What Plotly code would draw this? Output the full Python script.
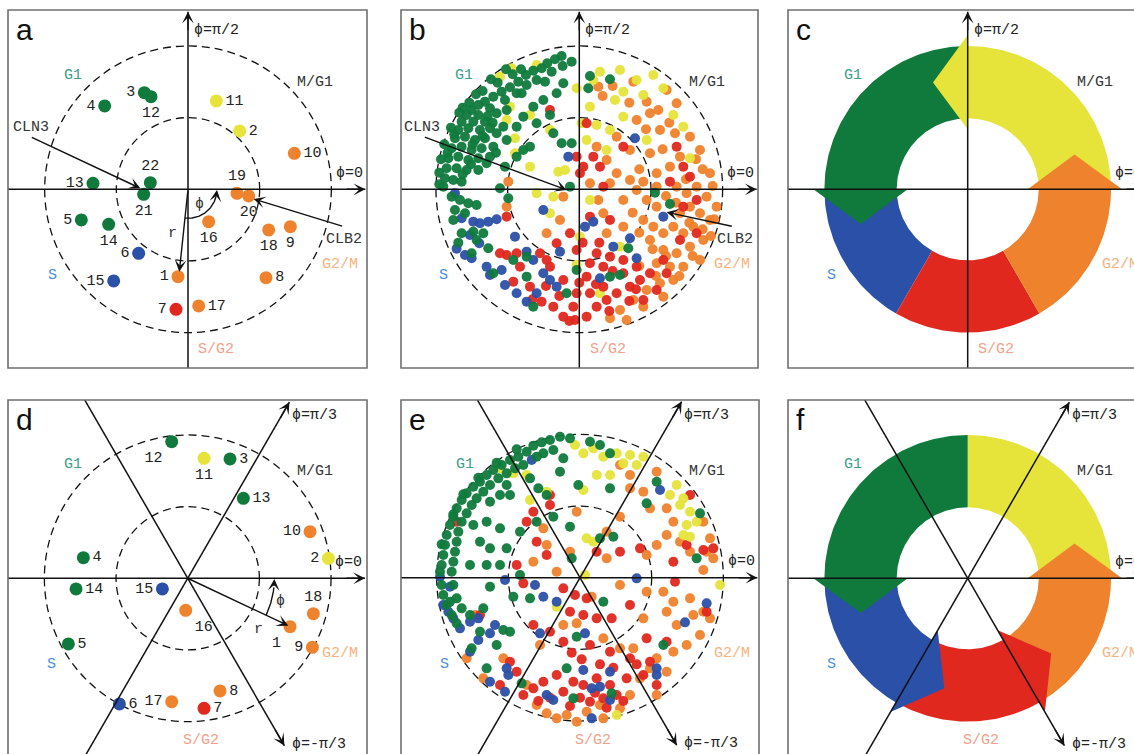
import math
import plotly.graph_objects as go

W, H = 1134, 754
PX = 100 / 3.0          # pixels per data unit
R_OUT, R_IN = 4.3, 2.15
MONO = "Liberation Mono"
SANS = "Liberation Sans"

COL = {'G1': '#0f7a3c', 'S': '#2b50a8', 'S/G2': '#e0281f', 'G2/M': '#ef822c', 'M/G1': '#e6e43a'}
LABCOL = {'G1': '#3a9e8a', 'S': '#4a8ee0', 'S/G2': '#f4a088', 'G2/M': '#f6b27e', 'M/G1': '#333333'}

# ---------------- data ----------------
a_gene = list(range(1, 23))
a_x = [-0.30, 1.55, -1.31, -2.50, -3.20, -1.48, -0.36, 2.34, 3.07, 3.19, 0.85,
       -1.11, -2.85, -2.38, -2.23, 0.62, 0.32, 2.42, 1.47, 1.82, -1.33, -1.13]
a_y = [-2.62, 1.75, 2.90, 2.50, -0.92, -1.92, -3.60, -2.65, -1.12, 1.08, 2.65,
       2.78, 0.18, -1.05, -2.75, -0.97, -3.50, -1.22, -0.12, -0.20, -0.15, 0.20]
a_phase = ['G2/M', 'M/G1', 'G1', 'G1', 'G1', 'S', 'S/G2', 'G2/M', 'G2/M', 'G2/M', 'M/G1',
           'G1', 'G1', 'G1', 'S', 'G2/M', 'G2/M', 'G2/M', 'G2/M', 'G2/M', 'G1', 'G1']
a_textpos = ['middle left', 'middle right', 'middle left', 'middle left', 'middle left',
             'middle left', 'middle left', 'middle right', 'bottom center', 'middle right',
             'middle right', 'bottom center', 'middle left', 'bottom center', 'middle left',
             'bottom center', 'middle right', 'bottom center', 'top center', 'bottom center',
             'bottom center', 'top center']

d_gene = list(range(1, 19))
d_x = [3.07, 4.22, 1.27, -3.13, -3.58, -2.05, 0.49, 0.97, 3.74, 3.67, 0.49, -0.48,
       1.67, -3.35, -0.76, -0.06, -0.48, 3.77]
d_y = [-1.45, 0.60, 3.58, 0.62, -1.97, -3.77, -3.90, -3.38, -2.07, 1.40, 3.60, 4.10,
       2.40, -0.32, -0.32, -0.96, -3.70, -1.06]
d_phase = ['G2/M', 'M/G1', 'G1', 'G1', 'G1', 'S', 'S/G2', 'G2/M', 'G2/M', 'G2/M', 'M/G1',
           'G1', 'G1', 'G1', 'S', 'G2/M', 'G2/M', 'G2/M']
d_textpos = ['bottom left', 'middle left', 'middle right', 'middle right', 'middle right',
             'middle right', 'middle right', 'middle right', 'middle left', 'middle left',
             'bottom center', 'bottom left', 'middle right', 'middle right', 'middle left',
             'bottom right', 'middle left', 'top center']

b_G1 = [(-0.53,4.00),(-0.73,3.90),(-0.96,3.78),(-0.23,3.83),(-1.13,3.63),(-1.38,3.56),(-0.83,3.53),
        (-1.60,3.43),(-1.28,3.28),(-1.03,3.23),(-1.83,3.23),(-1.58,3.13),(-2.08,3.06),(-2.33,2.93),
        (-1.88,2.88),(-2.58,2.78),(-2.23,2.68),(-2.83,2.63),(-3.03,2.53),(-2.68,2.43),(-3.23,2.38),
        (-3.38,2.23),(-3.03,2.23),(-2.48,2.28),(-3.53,2.03),(-3.18,2.03),(-2.83,2.03),(-2.18,2.38),
        (-3.63,1.78),(-3.33,1.83),(-2.98,1.78),(-2.68,1.83),(-3.73,1.53),(-3.43,1.58),(-3.13,1.48),
        (-2.83,1.53),(-2.48,1.68),(-3.83,1.23),(-3.53,1.28),(-3.23,1.18),(-2.93,1.23),(-2.58,1.28),
        (-3.93,0.93),(-3.63,0.98),(-3.33,0.88),(-3.03,0.93),(-2.68,0.98),(-3.98,0.63),(-3.68,0.63),
        (-3.38,0.58),(-3.03,0.58),(-4.03,0.33),(-3.78,0.28),(-3.53,0.23),(-4.08,0.08),(-2.18,1.48),
        (-1.88,1.88),(-1.68,2.18),(-1.38,2.48),(-1.08,2.68),(-0.68,2.88),(-0.48,3.18),(-1.28,1.98),
        (-0.88,2.23),(-0.78,1.68),(-0.53,1.38),(-0.23,1.38),(-1.48,1.28),(-1.88,0.98),(-2.23,0.68),
        (-2.38,0.03),(-2.13,-0.27),(-0.28,0.08),(0.27,3.03),(0.32,3.40),(0.92,3.30),(-1.68,1.18),
        (-2.78,0.78),(-1.73,2.88),(-2.28,1.88),(-2.00,3.45),(-2.45,3.20),(-2.90,2.95),(-3.30,2.60),
        (-3.60,2.30),(-3.85,1.85),(-4.05,1.35),(-4.15,0.90),(-4.20,0.50),(-4.20,0.15),(-1.75,3.60),
        (-0.50,3.70),(-2.60,2.00),(-2.90,1.60),(-2.50,1.10),(-3.10,2.85),(-2.65,3.30),(-2.20,3.60),
        (-3.50,2.45),(-3.75,1.65),(-3.95,1.10),(-3.20,1.35),(-2.75,2.20),(-3.25,0.75),(-3.50,0.45),
        (-3.83,-0.22),(-3.58,-0.32),(-3.33,-0.42),(-3.08,-0.47),(-3.73,-0.62),(-3.43,-0.72),
        (-3.78,-0.92),(-3.53,-1.32),(-3.18,-1.27),(-2.88,-1.32),(-3.63,-1.60),(-3.08,-1.52),
        (-2.73,-1.77),(-3.23,-1.92),(-2.58,-2.52),(-1.98,-2.12),(-1.58,-2.62),(-1.38,-3.52),
        (-0.38,-3.12),(-1.58,-2.02),(-0.08,-2.42),(0.92,-2.62),(1.22,-2.57),(1.47,-1.77),
        (2.27,-0.10),(2.72,-0.44)]
b_S = [(-3.73,-0.12),(-3.53,-0.87),(-3.18,-0.97),(-2.98,-1.02),(-2.73,-0.97),(-2.48,-0.90),
       (-3.28,-1.37),(-3.00,-1.62),(-3.68,-1.78),(-3.43,-1.97),(-3.23,-2.07),(-2.78,-2.32),
       (-2.68,-2.57),(-2.33,-2.42),(-2.23,-2.87),(-1.93,-1.42),(-1.58,-1.87),(-1.28,-3.12),
       (-1.58,-3.37),(-1.08,-2.52),(-0.88,-2.72),(-0.58,-1.87),(-0.68,-2.92),(-0.33,0.98),
       (-1.08,-0.62),(0.17,-1.12),(0.42,-0.97),(1.52,-1.47),(1.72,-2.07),(0.62,-2.67),
       (1.02,-1.72),(1.67,1.53),(2.52,-0.82),(-1.88,-3.12),(-1.38,-2.12)]
b_MG1 = [(-2.03,3.63),(-2.38,3.38),(-1.28,3.73),(0.62,3.53),(1.22,3.58),(1.72,3.28),(2.22,3.43),
         (1.32,2.93),(1.07,2.68),(1.92,2.83),(2.52,3.03),(0.32,2.48),(0.07,1.98),(0.52,1.93),
         (0.92,1.78),(1.32,2.18),(2.82,2.23),(3.12,1.88),(3.32,0.93),(-0.88,1.78),(-1.93,1.53),
         (-1.93,1.08),(-1.48,0.68),(-0.63,0.53),(-0.43,0.58),(-1.28,-0.12),(-0.78,-0.22),
         (0.22,1.48),(-2.08,2.48),(-2.18,2.08),(-1.48,2.23),(0.32,-0.32),(0.02,-1.42),
         (-0.08,-2.27),(-0.88,-0.72),(0.82,1.18),(-0.08,3.03),(1.22,-1.72),(0.62,-3.12),
         (2.02,1.48),(0.42,3.28)]
b_G2M = [(0.57,3.08),(1.62,3.23),(2.02,2.63),(2.37,2.38),(2.62,2.98),(2.12,2.28),(2.92,2.58),
         (1.72,2.08),(2.42,1.78),(2.87,1.68),(3.32,1.58),(3.62,1.18),(3.92,0.48),(3.02,0.98),
         (2.72,0.68),(2.32,0.48),(1.92,0.23),(1.72,-0.02),(2.02,-0.32),(2.32,-0.52),(2.92,0.08),
         (3.22,-0.12),(3.52,0.08),(3.82,-0.22),(3.32,-0.52),(3.02,-0.72),(3.62,-0.72),(3.92,-0.92),
         (3.42,-1.12),(3.12,-1.32),(2.82,-1.12),(2.52,-1.32),(2.22,-1.12),(1.92,-0.92),(2.12,-1.52),
         (2.52,-1.82),(2.92,-1.92),(3.32,-1.72),(3.72,-1.52),(3.12,-2.32),(2.72,-2.32),(2.32,-2.22),
         (2.82,-2.72),(2.42,-2.82),(2.02,-3.02),(1.62,-3.32),(1.22,-3.62),(0.92,-3.87),(2.52,-3.22),
         (1.32,-0.32),(1.52,0.28),(1.12,0.48),(0.82,0.88),(0.52,1.28),(1.12,1.58),(1.52,1.18),
         (2.12,1.08),(0.92,0.18),(0.57,-0.32),(-0.48,-0.22),(-0.58,-0.92),(-0.98,-1.32),
         (-2.13,0.23),(-2.18,-0.52),(0.32,0.18),(0.72,-0.72),(1.32,-1.12),(0.82,-1.32),
         (1.42,-3.92),(1.92,-3.52),(3.62,-2.12),(2.32,0.08),(4.12,-0.52),
         (3.70,0.60),(3.50,0.90),(4.00,0.10),(3.20,0.30),(2.60,-0.20),(2.90,-0.40),(3.70,-1.20),
         (3.95,-1.40),(3.40,-2.00),(3.00,-2.60),(2.60,-2.00),(2.20,-1.80),(1.80,-1.30),(1.60,-0.70),
         (1.80,0.60),(2.50,1.20),(2.00,1.80),(2.70,2.00),(1.50,2.60),(1.00,3.10),(0.70,2.80),
         (2.30,-2.60),(1.80,-2.30),(3.30,-1.00),(4.05,-0.90)]
b_SG2 = [(-2.18,-1.97),(-1.78,-2.32),(-1.48,-2.92),(-1.13,-3.37),(-0.78,-3.52),(-0.48,-3.82),
         (-0.13,-3.92),(0.22,-3.82),(0.52,-3.52),(0.32,-3.12),(0.82,-3.32),(1.12,-3.12),(1.52,-2.92),
         (1.82,-2.72),(2.12,-2.52),(1.32,-2.52),(0.72,-2.32),(0.32,-2.22),(0.52,-1.92),(0.92,-2.02),
         (1.32,-2.12),(-0.08,-3.12),(-0.48,-2.72),(-0.88,-2.32),(-1.18,-1.92),(-0.68,-1.62),
         (-0.08,-1.82),(0.22,-2.62),(0.72,-2.92),(-0.18,-3.52),(1.92,-3.32),(2.32,-3.02),
         (2.62,-2.52),(3.02,-1.52),(3.52,-1.32),(3.12,-0.52),(3.52,-0.32),(3.32,0.38),(2.72,0.23),
         (0.02,0.48),(-0.08,0.98),(0.12,0.68),(0.62,0.68),(0.42,0.98),(0.72,0.08),(0.32,-0.82),
         (0.92,-0.92),(-0.88,2.38),(0.22,1.98),(1.32,1.28),(2.92,1.28),(3.12,0.68),(-2.18,-0.82),
         (-1.88,-1.92),(-1.98,-2.77),(-2.38,-1.92),(-0.98,-2.12),(-0.28,-1.32),(1.72,-2.32),
         (2.52,-2.12),(0.00,-2.80),(0.50,-2.85),(1.00,-2.45),(1.50,-3.35),(-0.60,-3.20),
         (-1.00,-2.90),(-0.30,-3.95),(0.90,-3.65),(1.70,-3.00),(-1.40,-3.30),(0.10,-1.60),(0.60,-1.60)]

e_G1 = [(-0.60,4.23),(-0.30,4.18),(-0.90,4.13),(-1.15,4.06),(-1.40,3.96),(0.30,4.08),(0.60,3.98),
        (-0.80,3.83),(-1.10,3.73),(-1.30,3.63),(-1.60,3.78),(-1.85,3.63),(-2.10,3.53),(-2.35,3.38),
        (-2.60,3.23),(-2.80,3.08),(-3.00,2.88),(-3.20,2.73),(-3.40,2.53),(-3.55,2.33),(-3.70,2.08),
        (-3.80,1.83),(-3.90,1.58),(-4.00,1.28),(-4.05,0.98),(-4.10,0.68),(-4.15,0.38),(-4.20,0.18),
        (-4.15,-0.22),(-4.10,-0.52),(-4.00,-0.82),(-3.85,-1.12),(-3.70,-1.37),(-1.70,3.38),
        (-1.95,3.28),(-2.20,3.13),(-2.45,2.98),(-2.70,2.78),(-2.90,2.58),(-3.10,2.38),(-3.25,2.18),
        (-3.40,1.93),(-3.55,1.68),(-3.65,1.38),(-3.70,1.08),(-3.75,0.78),(-3.80,0.48),(-3.85,0.18),
        (-3.80,-0.22),(-3.70,-0.62),(-3.55,-0.92),(-3.90,-0.72),(-2.20,2.78),(-2.40,2.48),
        (-2.10,2.48),(-1.50,2.98),(-1.25,2.68),(-1.00,2.48),(-0.60,3.18),(-0.05,2.78),(-0.50,3.58),
        (0.90,2.68),(-2.70,2.28),(-3.20,1.58),(-2.80,1.68),(-2.40,1.48),(-3.00,1.08),(-2.70,0.88),
        (-2.20,0.88),(-1.80,1.38),(-1.30,1.68),(-0.30,1.53),(-0.25,0.58),(0.60,1.18),(1.00,1.23),
        (-3.30,0.38),(-2.80,0.38),(-2.40,0.38),(-1.80,0.08),(-2.70,-0.27),(-2.00,-0.57),
        (-1.50,-0.62),(-2.90,-0.92),(-3.30,-1.12),(-3.00,-1.62),(-2.30,-1.57),(-2.10,-1.62),
        (-2.50,-2.02),(-3.25,-2.12),(-2.80,-2.72),(-1.75,-3.17),(-0.40,-2.72),(-0.20,-3.62),
        (0.95,-3.47),(2.50,-2.02),(2.00,2.23),(2.30,2.88),(3.60,1.93),(3.50,0.58),(-0.10,-1.77),
        (0.70,-0.72),(-0.80,1.83),(0.90,3.73),(-1.90,3.85),(-2.50,3.45),(-3.05,3.00),(-3.50,2.50),
        (-3.80,1.90),(-4.15,1.00)]
e_S = [(-4.20,0.03),(-3.90,-0.27),(-4.10,-0.82),(-3.95,-1.02),(-3.80,-1.22),(-3.60,-1.52),
       (-3.30,-1.32),(-3.05,-1.22),(-3.30,-2.22),(-3.05,-1.87),(-2.70,-1.67),(-2.55,-1.42),
       (-2.20,-2.72),(-2.15,-2.92),(-2.70,-3.12),(-2.25,-3.42),(-2.25,-0.07),(-1.35,-0.22),
       (-1.10,-0.57),(-0.70,-0.72),(0.15,-1.67),(-1.20,-1.67),(-1.00,-3.52),(-0.80,-3.67),
       (0.10,-2.77),(0.35,-3.32),(0.60,-3.27),(0.90,-2.82),(0.90,-3.67),(0.35,-4.22),(1.70,-0.02),
       (2.40,2.63),(3.15,-1.34),(3.80,-0.77),(2.30,-2.92),(2.30,-2.72),(-1.45,3.53)]
e_MG1 = [(-0.15,3.98),(0.10,3.73),(0.40,3.88),(0.70,3.63),(1.10,3.73),(1.30,3.43),(1.50,3.68),
         (1.70,3.38),(1.90,3.63),(0.50,3.08),(0.10,2.63),(0.90,3.08),(-2.40,3.28),(-2.00,3.13),
         (-1.60,3.08),(-1.00,2.58),(-1.50,2.33),(0.20,1.18),(0.40,1.08),(0.15,0.08),(-0.70,-0.87),
         (2.70,2.48),(2.90,2.78),(3.10,2.38),(3.00,2.18),(3.30,1.98),(3.50,1.68),(3.20,1.58),
         (3.30,1.23),(3.10,1.28),(4.20,-0.22),(1.10,-4.12)]
e_G2M = [(1.20,3.38),(1.50,3.08),(1.90,2.58),(2.30,3.18),(2.60,2.08),(2.10,2.08),(2.80,1.68),
         (2.60,1.28),(3.00,1.08),(3.70,1.68),(3.90,1.18),(3.80,0.78),(3.30,0.78),(4.00,0.58),
         (3.70,0.23),(2.30,0.98),(2.00,0.68),(1.20,-0.22),(2.50,-0.42),(2.80,-0.72),(2.60,-1.02),
         (3.30,-0.62),(3.40,-1.12),(3.70,-1.02),(3.90,-1.22),(2.90,-1.42),(3.60,-1.72),(3.20,-2.02),
         (2.80,-2.22),(2.30,-2.42),(2.10,-2.72),(2.60,-2.82),(1.80,-3.02),(1.50,-3.52),(1.20,-3.92),
         (2.30,-3.52),(2.00,-0.42),(1.90,-1.22),(1.60,-2.12),(0.70,-1.82),(1.20,-2.12),(-0.10,-1.37),
         (-0.50,-1.42),(-1.00,0.98),(-1.10,1.48),(-1.40,0.48),(-0.70,0.18),(-0.30,0.78),(-0.10,1.98),
         (0.80,0.58),(1.20,1.83),(1.50,2.68),(-1.60,-3.22),(-1.30,-3.82),(-0.70,-4.22),(-1.00,-4.07),
         (-0.40,-4.12),(-0.10,-4.32),(0.70,-4.22),(0.20,-4.02),(0.60,-3.82),(-2.30,-2.42),
         (-2.90,-3.02),(-3.40,-2.42),(-3.15,-1.12),(0.35,-0.57),(-1.20,-2.02),(0.80,1.38)]
e_SG2 = [(-1.00,0.68),(-1.30,1.08),(-0.50,-0.32),(0.20,-0.62),(-0.30,-1.02),(0.10,-1.12),(0.50,-1.22),
         (0.95,-1.22),(-1.40,-1.42),(-0.90,-1.62),(-0.50,-1.92),(0.30,-2.02),(0.90,-2.22),(1.50,-2.42),
         (1.90,-2.92),(1.40,-3.02),(0.90,-3.22),(0.50,-3.02),(0.10,-3.22),(-0.20,-3.12),(-0.70,-2.92),
         (-1.10,-3.12),(-1.40,-3.32),(-1.70,-3.52),(-0.50,-3.42),(0.30,-3.72),(0.70,-3.62),(1.10,-3.52),
         (2.10,-2.52),(2.30,-3.22),(2.60,-1.92),(2.00,-1.82),(2.85,-0.12),(2.80,0.48),(3.20,0.98),
         (3.70,0.83),(4.00,0.88),(3.30,2.48),(1.20,0.78),(1.80,0.88),(1.50,-0.82),(3.80,-1.02),
         (-0.90,2.48),(-0.90,2.18),(-1.60,1.68),(0.50,0.78),(-3.70,1.68),(-3.00,-1.12),(-2.10,-2.52),
         (-1.90,-2.82),(-2.40,-3.22),(-1.90,0.38),(-1.70,-0.17),(-0.15,-0.52),(-1.40,1.98),
         (0.00,-3.60),(0.45,-3.45),(0.80,-3.90),(1.30,-3.70),(-0.30,-3.85),(0.60,-2.60),(1.00,-2.70),
         (1.70,-2.60),(-0.90,-3.60),(-1.25,-3.70),(0.05,-2.45),(-0.25,-2.25)]

ring_phase = ['M/G1', 'G1', 'S', 'S/G2', 'G2/M']
ring_start = [0, 90, 180, 240, 300]
ring_end = [90, 180, 240, 300, 360]
c_heads = ['M/G1', 'G1', 'G2/M']
c_order = ['S', 'S/G2', 'G1', 'M/G1', 'G2/M']
f_heads = ['G1', 'S', 'S/G2', 'G2/M']
f_order = ['M/G1', 'G2/M', 'S/G2', 'S', 'G1']

# ---------------- layout geometry (pixels) ----------------
P = {
    'a': dict(cx=188.0, cy=189.3, l=8, r=367, t=10, b=368),
    'b': dict(cx=579.3, cy=189.3, l=401, r=758, t=10, b=368),
    'c': dict(cx=967.7, cy=189.3, l=788, r=1147, t=10, b=368),
    'd': dict(cx=187.7, cy=578.3, l=8, r=367, t=400, b=757),
    'e': dict(cx=580.0, cy=577.7, l=401, r=759, t=400, b=757),
    'f': dict(cx=967.7, cy=578.3, l=788, r=1147, t=400, b=757),
}
names = ['a', 'b', 'c', 'd', 'e', 'f']
XR, YR = {}, {}
fig = go.Figure()
lay = {}
for i, n in enumerate(names):
    g = P[n]
    suf = '' if i == 0 else str(i + 1)
    XR[n], YR[n] = 'x' + suf, 'y' + suf
    l, r = max(g['l'], 0), min(g['r'], W)
    t, b = max(g['t'], 0), min(g['b'], H)
    lay['xaxis' + suf] = dict(domain=[l / W, r / W], range=[(l - g['cx']) / PX, (r - g['cx']) / PX],
                              visible=False, fixedrange=True, anchor='y' + suf)
    lay['yaxis' + suf] = dict(domain=[1 - b / H, 1 - t / H], range=[(g['cy'] - b) / PX, (g['cy'] - t) / PX],
                              visible=False, fixedrange=True, anchor='x' + suf)
fig.update_layout(**lay)

shapes, annos = [], []


def box(n):
    g = P[n]
    shapes.append(dict(type='rect', xref='paper', yref='paper', x0=g['l'] / W, x1=g['r'] / W,
                       y0=1 - g['b'] / H, y1=1 - g['t'] / H, line=dict(color='#6f6f6f', width=1.6),
                       layer='above'))
    annos.append(dict(xref='paper', yref='paper', x=(g['l'] + 6) / W, y=1 - (g['t'] + 1) / H,
                      text=n, showarrow=False, xanchor='left', yanchor='top',
                      font=dict(family=SANS, size=30, color='#111')))


def txt(n, x, y, s, color='#333', size=15, xanchor='center'):
    annos.append(dict(xref=XR[n], yref=YR[n], x=x, y=y, text=s, showarrow=False,
                      xanchor=xanchor, yanchor='middle', font=dict(family=MONO, size=size, color=color)))


def line(n, x0, y0, x1, y1, w=1.5):
    fig.add_trace(go.Scatter(x=[x0, x1], y=[y0, y1], mode='lines', xaxis=XR[n], yaxis=YR[n],
                             line=dict(color='#111', width=w), hoverinfo='skip', showlegend=False))


def arrow(n, x0, y0, x1, y1, w=1.4):
    annos.append(dict(xref=XR[n], yref=YR[n], axref=XR[n], ayref=YR[n], x=x1, y=y1, ax=x0, ay=y0,
                      showarrow=True, arrowhead=3, arrowsize=1.4, arrowwidth=w, arrowcolor='#111',
                      text=''))


def head(n, x, y, ang):
    t = math.radians(ang)
    arrow(n, x - 0.6 * math.cos(t), y - 0.6 * math.sin(t), x, y)


def circles(n):
    for rr in (R_OUT, R_IN):
        shapes.append(dict(type='circle', xref=XR[n], yref=YR[n], x0=-rr, x1=rr, y0=-rr, y1=rr,
                           line=dict(color='#111', width=1.3, dash='8px,5px'), layer='below'))


def phase_labels(n, row):
    if row == 1:
        txt(n, 0.12, 4.76, 'ϕ=π/2', '#222', 15, 'left')
        txt(n, 0.85, -4.82, 'S/G2', LABCOL['S/G2'])
    else:
        txt(n, 3.07, 4.88, 'ϕ=π/3', '#222', 15, 'left')
        txt(n, 3.07, -4.98, 'ϕ=-π/3', '#222', 15, 'left')
        txt(n, 0.40, -4.88, 'S/G2', LABCOL['S/G2'])
    txt(n, 3.82, 3.20, 'M/G1', '#333')
    txt(n, 4.37, 0.48, 'ϕ=0', '#222', 15, 'left')
    txt(n, -3.45, 3.40, 'G1', LABCOL['G1'])
    txt(n, -4.08, -2.60, 'S', LABCOL['S'])
    txt(n, 4.57, -2.26, 'G2/M', LABCOL['G2/M'])


def axes(n, row):
    line(n, -7, 0, 5.32, 0)
    head(n, 5.32, 0, 0)
    if row == 1:
        line(n, 0, -7, 0, 5.33)
        head(n, 0, 5.33, 90)
    else:
        for ang, rtip in ((60, 6.1), (-60, 5.8)):
            t = math.radians(ang)
            line(n, -7.5 * math.cos(t), -7.5 * math.sin(t), rtip * math.cos(t), rtip * math.sin(t))
            head(n, rtip * math.cos(t), rtip * math.sin(t), ang)


def genes(n, xs, ys, ph, ids, pos):
    fig.add_trace(go.Scatter(x=xs, y=ys, mode='markers+text', xaxis=XR[n], yaxis=YR[n],
                             marker=dict(size=13, color=[COL[p] for p in ph], line=dict(width=0)),
                             text=[str(i) for i in ids], textposition=pos,
                             textfont=dict(family=MONO, size=15, color='#222'),
                             hoverinfo='skip', showlegend=False, cliponaxis=False))


def cloud(n, groups):
    for ph, pts in groups:
        fig.add_trace(go.Scatter(x=[p[0] for p in pts], y=[p[1] for p in pts], mode='markers',
                                 xaxis=XR[n], yaxis=YR[n],
                                 marker=dict(size=10, color=COL[ph], opacity=0.95, line=dict(width=0)),
                                 hoverinfo='skip', showlegend=False))


def ring(n, order, heads):
    for ph in order:
        k = ring_phase.index(ph)
        a0, a1 = ring_start[k], ring_end[k]
        steps = int(a1 - a0)
        xs, ys = [], []
        for j in range(steps + 1):
            t = math.radians(a0 + j)
            xs.append(R_OUT * math.cos(t)); ys.append(R_OUT * math.sin(t))
        if ph in heads:
            for rr, da in ((4.63, 0), (3.37, 18), (1.80, 0)):
                t = math.radians(a1 + da)
                xs.append(rr * math.cos(t)); ys.append(rr * math.sin(t))
        for j in range(steps + 1):
            t = math.radians(a1 - j)
            xs.append(2.13 * math.cos(t)); ys.append(2.13 * math.sin(t))
        fig.add_trace(go.Scatter(x=xs, y=ys, mode='lines', fill='toself', fillcolor=COL[ph],
                                 line=dict(width=0, color=COL[ph]), xaxis=XR[n], yaxis=YR[n],
                                 hoverinfo='skip', showlegend=False))


def arc(n, rad, a0, a1):
    xs = [rad * math.cos(math.radians(a0 + (a1 - a0) * j / 40)) for j in range(41)]
    ys = [rad * math.sin(math.radians(a0 + (a1 - a0) * j / 40)) for j in range(41)]
    fig.add_trace(go.Scatter(x=xs, y=ys, mode='lines', xaxis=XR[n], yaxis=YR[n],
                             line=dict(color='#111', width=1.4), hoverinfo='skip', showlegend=False))
    annos.append(dict(xref=XR[n], yref=YR[n], axref=XR[n], ayref=YR[n], x=rad, y=-0.02,
                      ax=xs[-1], ay=ys[-1], showarrow=True, arrowhead=3, arrowsize=1.4,
                      arrowwidth=1.4, arrowcolor='#111', text=''))


# ---- panel a ----
box('a'); circles('a')
genes('a', a_x, a_y, a_phase, a_gene, a_textpos)
axes('a', 1); phase_labels('a', 1)
arrow('a', 0, 0, -0.26, -2.47)
txt('a', -0.48, -1.32, 'r')
arc('a', 0.87, -96, -14)
txt('a', 0.34, -0.47, 'ϕ')
txt('a', -4.71, 1.86, 'CLN3')
arrow('a', -4.73, 1.58, -1.43, 0.03)
txt('a', 4.67, -1.50, 'CLB2')
arrow('a', 4.67, -1.12, 1.97, -0.29)

# ---- panel b ----
box('b'); circles('b')
cloud('b', [('G2/M', b_G2M), ('M/G1', b_MG1), ('S/G2', b_SG2), ('S', b_S), ('G1', b_G1)])
axes('b', 1); phase_labels('b', 1)
txt('b', -4.71, 1.86, 'CLN3')
arrow('b', -4.68, 1.58, -0.38, -0.02)
txt('b', 4.67, -1.50, 'CLB2')
arrow('b', 4.62, -1.12, 2.62, -0.69)

# ---- panel c ----
box('c')
ring('c', c_order, c_heads)
axes('c', 1); phase_labels('c', 1)

# ---- panel d ----
box('d'); circles('d')
genes('d', d_x, d_y, d_phase, d_gene, d_textpos)
axes('d', 2); phase_labels('d', 2)
arrow('d', 0, 0, 3.02, -1.42)
txt('d', 2.12, -1.55, 'r')
arc('d', 2.6, -25, -6)
txt('d', 2.77, -0.70, 'ϕ')

# ---- panel e ----
box('e'); circles('e')
cloud('e', [('G2/M', e_G2M), ('S/G2', e_SG2), ('M/G1', e_MG1), ('S', e_S), ('G1', e_G1)])
axes('e', 2); phase_labels('e', 2)

# ---- panel f ----
box('f')
ring('f', f_order, f_heads)
axes('f', 2); phase_labels('f', 2)

fig.update_layout(width=W, height=H, margin=dict(l=0, r=0, t=0, b=0),
                  paper_bgcolor='white', plot_bgcolor='white', showlegend=False,
                  shapes=shapes, annotations=annos)
fig.write_html("out.html", config={'displayModeBar': False},
               post_script="document.body.style.margin='0px';document.body.style.overflow='hidden';")
